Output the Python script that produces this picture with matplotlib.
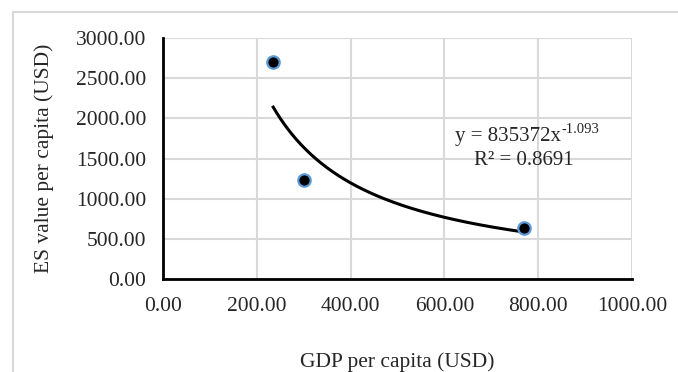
import numpy as np
import matplotlib
matplotlib.use("Agg")
import matplotlib.pyplot as plt
from matplotlib.patches import Rectangle

# GDP per capita vs. ecosystem-service value per capita
gdp = [235.0, 300.0, 770.0]
es_value = [2700.0, 1230.0, 630.0]

# Power trend line y = a * x^b
coef_a = 835372
coef_b = -1.093
r_squared = 0.8691

x_ticks = [0, 200, 400, 600, 800, 1000]
y_ticks = [0, 500, 1000, 1500, 2000, 2500, 3000]

plt.rcParams['font.family'] = ['Liberation Serif', 'DejaVu Serif']
text_color = '#262626'

fig = plt.figure(figsize=(6.78, 3.72), dpi=100)
fig.patch.set_facecolor('white')

# light frame around the chart area
fig.patches.append(Rectangle((12.5 / 678, -0.1), 1.2, (372 - 12) / 372 + 0.1,
                             transform=fig.transFigure, fill=False,
                             edgecolor='#d9d9d9', linewidth=1.5))

ax = fig.add_axes([163 / 678, 1 - 279 / 372, (632 - 163) / 678, (279 - 38) / 372])
ax.set_xlim(0, 1000)
ax.set_ylim(0, 3000)
ax.set_xticks(x_ticks)
ax.set_yticks(y_ticks)
ax.set_xticklabels([f"{v:.2f}" for v in x_ticks])
ax.set_yticklabels([f"{v:.2f}" for v in y_ticks])
ax.tick_params(axis='both', length=0, labelsize=15.5, colors=text_color)
ax.tick_params(axis='y', pad=12)
ax.tick_params(axis='x', pad=13)

ax.grid(True, color='#d9d9d9', linewidth=1.5)
ax.set_axisbelow(True)
for side in ('top', 'right'):
    ax.spines[side].set_visible(False)
for side in ('left', 'bottom'):
    ax.spines[side].set_color('black')
    ax.spines[side].set_linewidth(2)

# trend line across the observed range
xs = np.linspace(min(gdp), max(gdp), 200)
ax.plot(xs, coef_a * xs ** coef_b, color='black', linewidth=2.2, zorder=3)

ax.scatter(gdp, es_value, s=80, color='black', edgecolor='#5b9bd5',
           linewidth=1.6, zorder=4, clip_on=False)

# trend-line equation with a plain-hyphen exponent
eq_main = ax.text(623, 1770, f"y = {coef_a}x", ha='left', va='center',
                  fontsize=15, color=text_color)
ax.annotate(f"{coef_b}", xy=(1, 1), xycoords=eq_main, xytext=(0.5, 3),
            textcoords='offset points', ha='left', va='top',
            fontsize=10.5, color=text_color)
ax.text(770, 1470, f"R² = {r_squared}", ha='center', va='center',
        fontsize=15, color=text_color)

ax.set_xlabel("GDP per capita (USD)", fontsize=15.5, labelpad=26, color=text_color)
ax.set_ylabel("ES value per capita (USD)", fontsize=15.5, labelpad=16, color=text_color)

fig.savefig("out.png", dpi=100, facecolor='white')
